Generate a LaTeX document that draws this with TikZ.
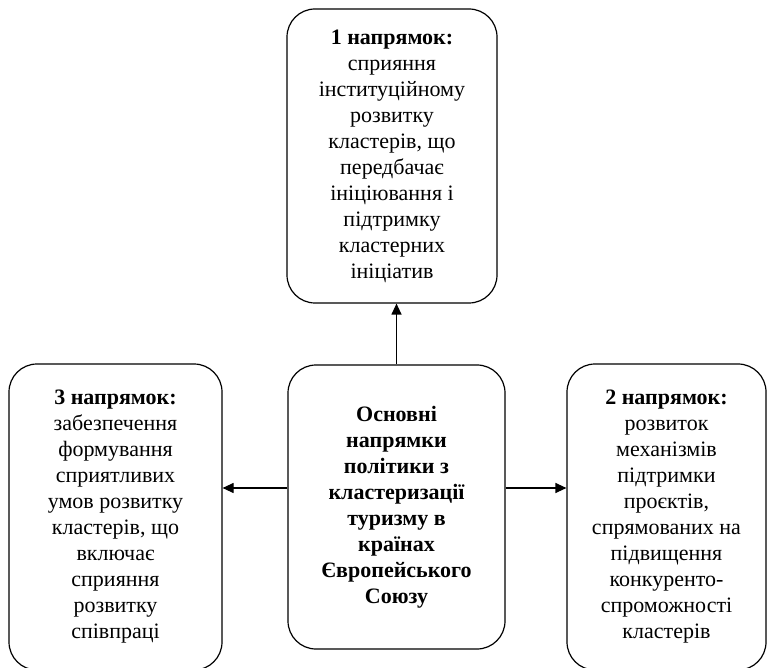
\documentclass[tikz,border=0pt]{standalone}
\usepackage{fontspec}
\setmainfont{Liberation Serif}
\usetikzlibrary{arrows.meta}
\begin{document}
\begin{tikzpicture}[x=1pt,y=1pt,
  box/.style={draw, line width=1.2pt, rounded corners=28pt, align=center, inner sep=0pt,
    font=\fontsize{22}{26}\selectfont},
  arr/.style={line width=1.2pt, -{Triangle[length=11pt,width=10pt]}}]
\useasboundingbox (0,0) rectangle (767,667);
\node[box, minimum width=210pt, minimum height=294pt] (top) at (392,511)
  {\textbf{1 напрямок:}\\сприяння\\інституційному\\розвитку\\кластерів, що\\передбачає\\ініціювання і\\підтримку\\кластерних\\ініціатив};
\node[box, minimum width=217pt, minimum height=284pt] (center) at (396.5,160)
  {\bfseries Основні\\\bfseries напрямки\\\bfseries політики з\\\bfseries кластеризації\\\bfseries туризму в\\\bfseries країнах\\\bfseries Європейського\\\bfseries Союзу};
\node[box, minimum width=213pt, minimum height=306pt] (left) at (115.5,150)
  {\textbf{3 напрямок:}\\забезпечення\\формування\\сприятливих\\умов розвитку\\кластерів, що\\включає\\сприяння\\розвитку\\співпраці};
\node[box, minimum width=199pt, minimum height=306pt] (right) at (666.5,150)
  {\textbf{2 напрямок:}\\розвиток\\механізмів\\підтримки\\проєктів,\\спрямованих на\\підвищення\\конкуренто-\\спроможності\\кластерів};
\draw[arr] (center.north) -- (center.north |- top.south);
\draw[arr] ([yshift=19pt]center.west) -- ([yshift=19pt]center.west -| left.east);
\draw[arr] ([yshift=19pt]center.east) -- ([yshift=19pt]center.east -| right.west);
\end{tikzpicture}
\end{document}
